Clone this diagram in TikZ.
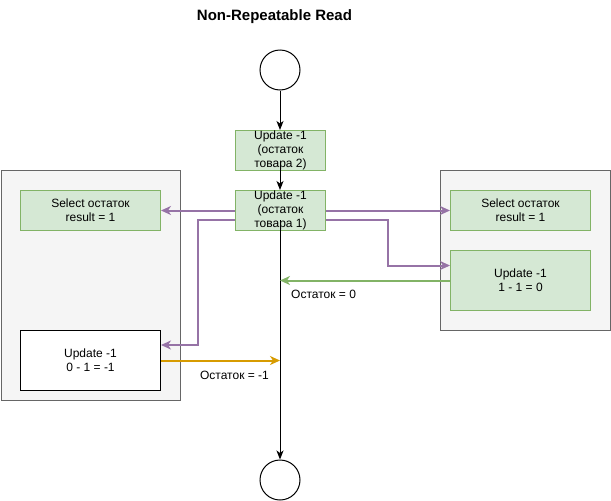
\documentclass[tikz,border=0pt]{standalone}
\usepackage{fontspec}
\setmainfont{Liberation Sans}
\usetikzlibrary{arrows.meta}
\definecolor{gfill}{HTML}{D5E8D4}
\definecolor{gdraw}{HTML}{82B366}
\definecolor{purp}{HTML}{9673A6}
\definecolor{oran}{HTML}{D79B00}
\definecolor{cfill}{HTML}{F5F5F5}
\definecolor{cdraw}{HTML}{666666}
\begin{document}
\begin{tikzpicture}[x=1pt,y=-1pt,
  txt/.style={font=\fontsize{12}{14}\selectfont, align=center},
  gbox/.style={txt, draw=gdraw, fill=gfill, line width=1pt, inner sep=0pt},
  wbox/.style={txt, draw=black, fill=white, line width=1pt, inner sep=0pt},
  cont/.style={draw=cdraw, fill=cfill, line width=1pt, inner sep=0pt},
  circ/.style={circle, draw=black, fill=white, line width=1pt, minimum size=40pt, inner sep=0pt},
  blk/.style={draw=black, line width=1pt, -{Stealth[length=9pt,width=7pt,inset=2.5pt]}},
  pur/.style={draw=purp, line width=2pt, -{Stealth[length=10pt,width=9pt,inset=3pt]}},
  grn/.style={draw=gdraw, line width=2pt, -{Stealth[length=10pt,width=9pt,inset=3pt]}},
  org/.style={draw=oran, line width=2pt, -{Stealth[length=10pt,width=9pt,inset=3pt]}},
  lbl/.style={font=\fontsize{12}{14}\selectfont, inner sep=0pt}
]
\useasboundingbox (0,0) rectangle (611,501);

\node[font=\bfseries\fontsize{15}{17}\selectfont] (title) at (274.5,17) {Non-Repeatable Read};

% containers
\node[cont, minimum width=179pt, minimum height=230pt] (lc) at (90.5,285) {};
\node[cont, minimum width=170pt, minimum height=160pt] (rc) at (525.5,250.5) {};

% circles
\node[circ] (c1) at (280,70) {};
\node[circ] (c2) at (280,480) {};

% central boxes
\node[gbox, minimum width=90pt, minimum height=40pt] (b1) at (280.5,150.5) {Update -1\\(остаток\\товара 2)};
\node[gbox, minimum width=90pt, minimum height=40pt] (b2) at (280.5,210.5) {Update -1\\(остаток\\товара 1)};

% left boxes
\node[gbox, minimum width=140pt, minimum height=40pt] (ls) at (90.5,210.5) {Select остаток\\result = 1};
\node[wbox, minimum width=140pt, minimum height=60pt] (lu) at (90.5,360.5) {Update -1\\0 - 1 = -1};

% right boxes
\node[gbox, minimum width=140pt, minimum height=40pt] (rs) at (520.5,210.5) {Select остаток\\result = 1};
\node[gbox, minimum width=140pt, minimum height=60pt] (ru) at (520.5,280.5) {Update -1\\1 - 1 = 0};

% coordinates
\coordinate (b1in) at (280,162);
\coordinate (b2in) at (280,220);
\coordinate (m0) at (280,280.5);
\coordinate (m1) at (280,360.5);

% main flow
\draw[blk] (c1.south) -- (b1.north -| c1.south);
\draw[blk] (b1in) -- (b2.north -| b1in);
\draw[blk] (b2in) -- (c2.north);

% purple
\draw[pur] (b2.west) -- (ls.east);
\draw[pur] (b2.east) -- (rs.west);
\draw[pur] ([yshift=-9.5pt]b2.west) -| (198,345) -- (lu.east |- 0,345);
\draw[pur] ([yshift=-9.5pt]b2.east) -| (388,265.5) -- (ru.west |- 0,265.5);

% green and orange
\draw[grn] (ru.west |- m0) -- (m0);
\node[lbl, anchor=west] (l0) at (291,294) {Остаток = 0};
\draw[org] (lu.east |- m1) -- (m1);
\node[lbl] (l1) at (234.5,375) {Остаток = -1};
\end{tikzpicture}
\end{document}
